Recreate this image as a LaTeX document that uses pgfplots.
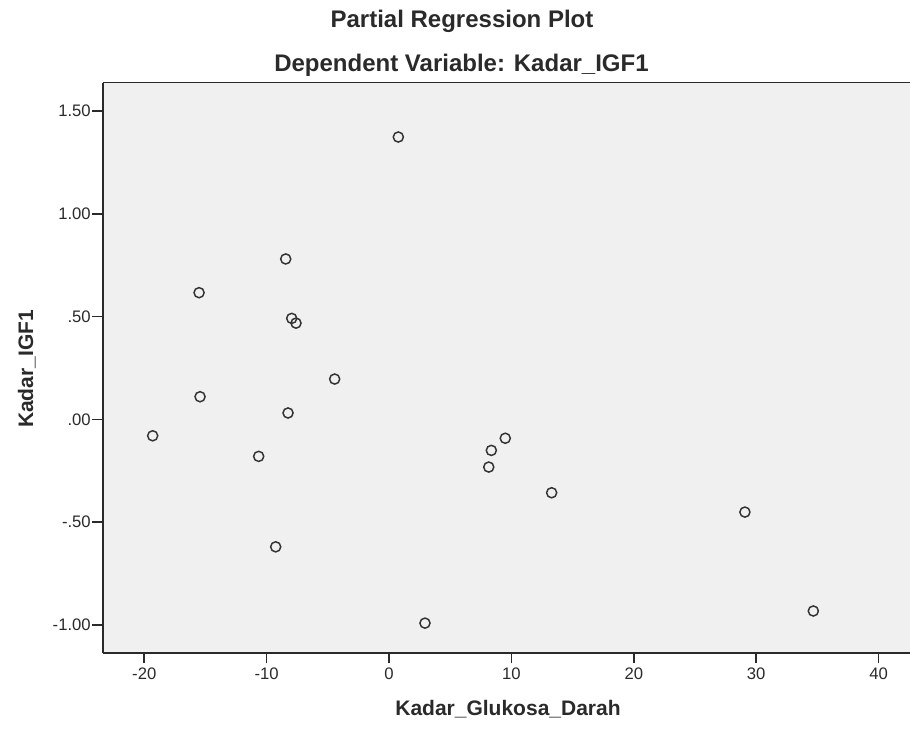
\documentclass[border=0pt]{standalone}
\usepackage{fontspec}
\setmainfont{Liberation Sans}
\usepackage{pgfplots}
\pgfplotsset{compat=1.18}
\definecolor{bgc}{HTML}{F0F0F0}
\definecolor{mk}{HTML}{333333}
\definecolor{ax}{HTML}{2A2A2A}
\begin{document}
\begin{tikzpicture}
\useasboundingbox (0,0) rectangle (682.5pt,546.75pt);
\begin{axis}[
  at={(77.25pt,57.2pt)}, anchor=south west,
  scale only axis, width=605.25pt, height=427.65pt,
  xmin=-23.37, xmax=42.57, ymin=-1.135, ymax=1.638,
  axis x line=box, axis y line=left,
  axis line style={-, line width=1.2pt, draw=ax},
  axis background/.style={fill=bgc},
  xtick={-20,-10,0,10,20,30,40},
  ytick={-1,-0.5,0,0.5,1,1.5},
  yticklabels={-1.00,-.50,.00,.50,1.00,1.50},
  xtick pos=bottom, ytick pos=left,
  tick align=outside, major tick length=8pt,
  tick style={line width=1.2pt, draw=ax},
  ticklabel style={font=\fontsize{12.5}{14}\selectfont, text=ax},
  yticklabel style={inner sep=1pt},
  /pgf/number format/assume math mode=true,
  clip=false,
]
\addplot[only marks, mark=o, mark size=3.8pt, mark options={line width=1.1pt, draw=mk}, draw=mk] coordinates {
(0.76,1.373)
(-8.44,0.780)
(-15.52,0.616)
(-7.95,0.491)
(-7.60,0.468)
(-4.44,0.196)
(-15.44,0.110)
(-8.25,0.031)
(-19.31,-0.080)
(-10.65,-0.180)
(-9.26,-0.620)
(2.94,-0.991)
(9.50,-0.092)
(8.36,-0.151)
(8.15,-0.232)
(13.29,-0.357)
(29.08,-0.451)
(34.67,-0.932)
};
\end{axis}
\node[anchor=base, font=\fontsize{18}{21}\selectfont\bfseries, text=ax, inner sep=0pt] at (346.5pt,525.75pt) {Partial Regression Plot};
\node[anchor=base, font=\fontsize{18}{21}\selectfont\bfseries, text=ax, inner sep=0pt] at (346.1pt,492.75pt) {Dependent Variable: Kadar\_IGF1};
\node[anchor=base, font=\fontsize{15.75}{18}\selectfont\bfseries, text=ax, inner sep=0pt] at (381pt,10.5pt) {Kadar\_Glukosa\_Darah};
\node[anchor=base, rotate=90, font=\fontsize{15.75}{18}\selectfont\bfseries, text=ax, inner sep=0pt] at (24.75pt,270pt) {Kadar\_IGF1};
\end{tikzpicture}
\end{document}
